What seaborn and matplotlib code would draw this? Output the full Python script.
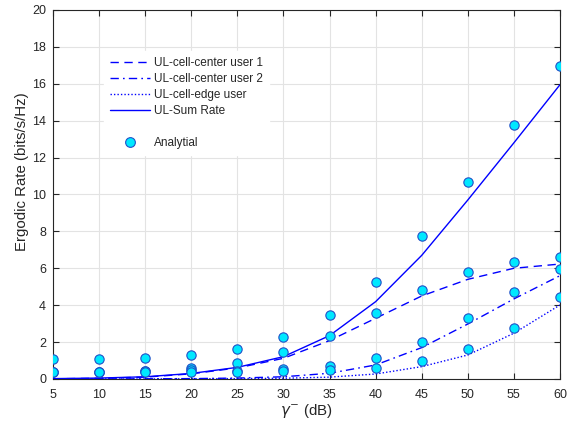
import matplotlib
matplotlib.use('Agg')
import matplotlib.pyplot as plt
import seaborn as sns
import pandas as pd
from matplotlib.lines import Line2D

# SNR axis (dB)
snr = [5, 10, 15, 20, 25, 30, 35, 40, 45, 50, 55, 60]

# simulation curves
center1_sim = [0.01, 0.04, 0.10, 0.28, 0.60, 1.12, 2.08, 3.29, 4.50, 5.40, 6.00, 6.23]
center2_sim = [0.00, 0.00, 0.01, 0.02, 0.05, 0.12, 0.31, 0.76, 1.70, 2.98, 4.34, 5.60]
edge_sim = [0.00, 0.00, 0.00, 0.01, 0.02, 0.04, 0.10, 0.27, 0.67, 1.30, 2.48, 4.01]
sum_sim = [0.02, 0.05, 0.12, 0.30, 0.63, 1.21, 2.35, 4.19, 6.70, 9.70, 12.80, 15.95]

# analytical points
center1_ana = [0.40, 0.40, 0.45, 0.60, 0.88, 1.45, 2.35, 3.58, 4.84, 5.78, 6.36, 6.63]
center2_ana = [0.38, 0.38, 0.42, 0.50, 0.42, 0.54, 0.70, 1.16, 2.02, 3.29, 4.72, 5.96]
edge_ana = [0.36, 0.36, 0.38, 0.38, 0.40, 0.43, 0.49, 0.61, 0.98, 1.64, 2.78, 4.43]
sum_ana = [1.08, 1.10, 1.15, 1.30, 1.64, 2.26, 3.45, 5.27, 7.75, 10.68, 13.77, 16.96]

labels = ['UL-cell-center user 1', 'UL-cell-center user 2', 'UL-cell-edge user', 'UL-Sum Rate']
styles = [(0, (6, 4)), (0, (6, 3, 1.2, 3)), (0, (1, 1.5)), '-']

sns.set_style('white')
plt.rcParams['font.family'] = ['Liberation Sans', 'DejaVu Sans']

fig = plt.figure(figsize=(5.71, 4.21), dpi=100)
ax = fig.add_axes([0.0928, 0.0998, 0.8879, 0.8765])

blue = '#0000ff'
sims = [center1_sim, center2_sim, edge_sim, sum_sim]

handles = []
for lab, ls, ys in zip(labels, styles, sims):
    df = pd.DataFrame({'snr': snr, 'rate': ys})
    sns.lineplot(data=df, x='snr', y='rate', ax=ax, color=blue, lw=1.0,
                 linestyle=ls, zorder=3)
    handles.append(Line2D([], [], color=blue, lw=1.0, linestyle=ls, label=lab))

ana_df = pd.DataFrame({
    'snr': snr * 4,
    'rate': center1_ana + center2_ana + edge_ana + sum_ana,
})
sns.scatterplot(data=ana_df, x='snr', y='rate', ax=ax, s=45, color='#00e8ff',
                edgecolor='#2050c8', linewidth=0.8, zorder=4)

handles.append(Line2D([], [], color='none', label=' '))
handles.append(Line2D([], [], color='none', marker='o', markersize=7,
                      markerfacecolor='#00e8ff', markeredgecolor='#2050c8',
                      markeredgewidth=0.8, label='Analytial'))

ax.set_xlim(5, 60)
ax.set_ylim(0, 20)
ax.set_xticks(snr)
ax.set_yticks(range(0, 21, 2))
ax.grid(True, color='#e3e3e3', lw=0.8)
ax.set_axisbelow(True)
for sp in ax.spines.values():
    sp.set_color('#262626')
    sp.set_linewidth(0.8)
ax.tick_params(direction='in', length=4, width=0.8, colors='#262626',
               labelsize=9, top=True, right=True, bottom=True, left=True,
               labeltop=False, labelright=False)
ax.tick_params(axis='x', pad=7)
ax.tick_params(axis='y', pad=5)
ax.set_xlabel(r'$\gamma^{-}$ (dB)', fontsize=10.8, color='#262626', labelpad=1)
ax.set_ylabel('Ergodic Rate (bits/s/Hz)', fontsize=10.8, color='#262626')
ax.yaxis.set_label_coords(-0.048, 0.561)

leg = ax.legend(handles=handles, loc='upper left', bbox_to_anchor=(0.089, 0.905),
                fontsize=8.5, frameon=True, handlelength=3.4, handletextpad=0.35,
                labelspacing=0.35, borderpad=0.5, fancybox=False)
leg.get_frame().set_edgecolor('white')
leg.get_frame().set_facecolor('white')
leg.get_frame().set_alpha(1)

fig.savefig('out.png', dpi=100)
